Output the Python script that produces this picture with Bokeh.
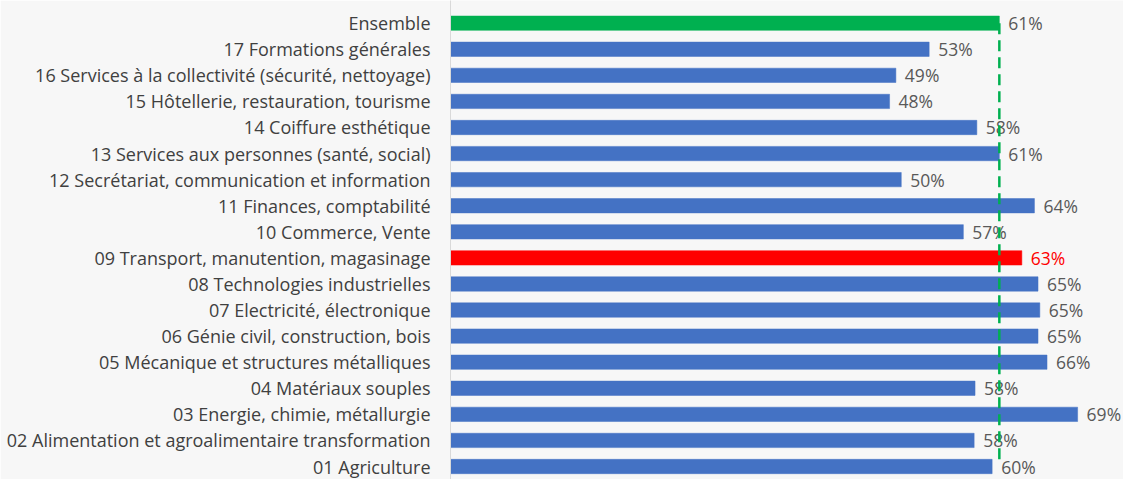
from bokeh.plotting import figure
from bokeh.models import ColumnDataSource, Range1d, FixedTicker
from bokeh.core.properties import value
from bokeh.embed import file_html
from bokeh.resources import INLINE

categories = [
    "Ensemble",
    "17 Formations générales",
    "16 Services à la collectivité (sécurité, nettoyage)",
    "15 Hôtellerie, restauration, tourisme",
    "14 Coiffure esthétique",
    "13 Services aux personnes (santé, social)",
    "12 Secrétariat, communication et information",
    "11 Finances, comptabilité",
    "10 Commerce, Vente",
    "09 Transport, manutention, magasinage",
    "08 Technologies industrielles",
    "07 Electricité, électronique",
    "06 Génie civil, construction, bois",
    "05 Mécanique et structures métalliques",
    "04 Matériaux souples",
    "03 Energie, chimie, métallurgie",
    "02 Alimentation et agroalimentaire transformation",
    "01 Agriculture",
]
values = [61.0, 53.2, 49.5, 48.8, 58.5, 61.0, 50.1, 64.9, 57.0, 63.5,
          65.3, 65.5, 65.3, 66.3, 58.3, 69.7, 58.2, 60.2]
value_labels = ["61%", "53%", "49%", "48%", "58%", "61%", "50%", "64%", "57%", "63%",
                "65%", "65%", "65%", "66%", "58%", "69%", "58%", "60%"]

GREEN = "#00b050"
BLUE = "#4472c4"
RED = "#ff0000"
GREY_TXT = "#595959"

n = len(categories)
ys = [n - 1 - i for i in range(n)]
bar_colors = [GREEN if c == "Ensemble" else (RED if c.startswith("09") else BLUE) for c in categories]
label_colors = [RED if c.startswith("09") else GREY_TXT for c in categories]

src = ColumnDataSource(dict(y=ys, v=values, lab=value_labels, bc=bar_colors, lc=label_colors))

p = figure(width=1123, height=479, output_backend="svg", toolbar_location=None,
           x_range=Range1d(0, 74.8), y_range=Range1d(-0.498, 17.87),
           x_axis_location=None, min_border_left=450, min_border_right=0,
           min_border_top=0, min_border_bottom=0)
p.background_fill_color = "#f7f7f7"
p.border_fill_color = "#f7f7f7"
p.outline_line_color = None
p.grid.visible = False

p.hbar(y="y", right="v", left=0, height=0.55, fill_color="bc", line_color="bc",
       line_width=0.5, source=src)

p.text(x="v", y="y", text="lab", x_offset=9, text_color="lc",
       text_font=value("Open Sans"), text_font_size="17.5px",
       text_baseline="middle", text_align="left", source=src)

ens = values[categories.index("Ensemble")]
p.segment(x0=[ens], y0=[ys[0]], x1=[ens], y1=[0.13], line_color=GREEN,
          line_width=2.5, line_dash="11 6")

ax = p.yaxis[0]
ax.ticker = FixedTicker(ticks=ys)
ax.major_label_overrides = {y: c for y, c in zip(ys, categories)}
ax.axis_line_color = "#d9d9d9"
ax.axis_line_width = 1
ax.major_tick_line_color = None
ax.minor_tick_line_color = None
ax.major_tick_out = 0
ax.major_label_standoff = 20
ax.major_label_text_font = "Open Sans"
ax.major_label_text_font_size = "18px"
ax.major_label_text_color = "#404040"

open("out.html", "w").write(file_html(p, INLINE))
